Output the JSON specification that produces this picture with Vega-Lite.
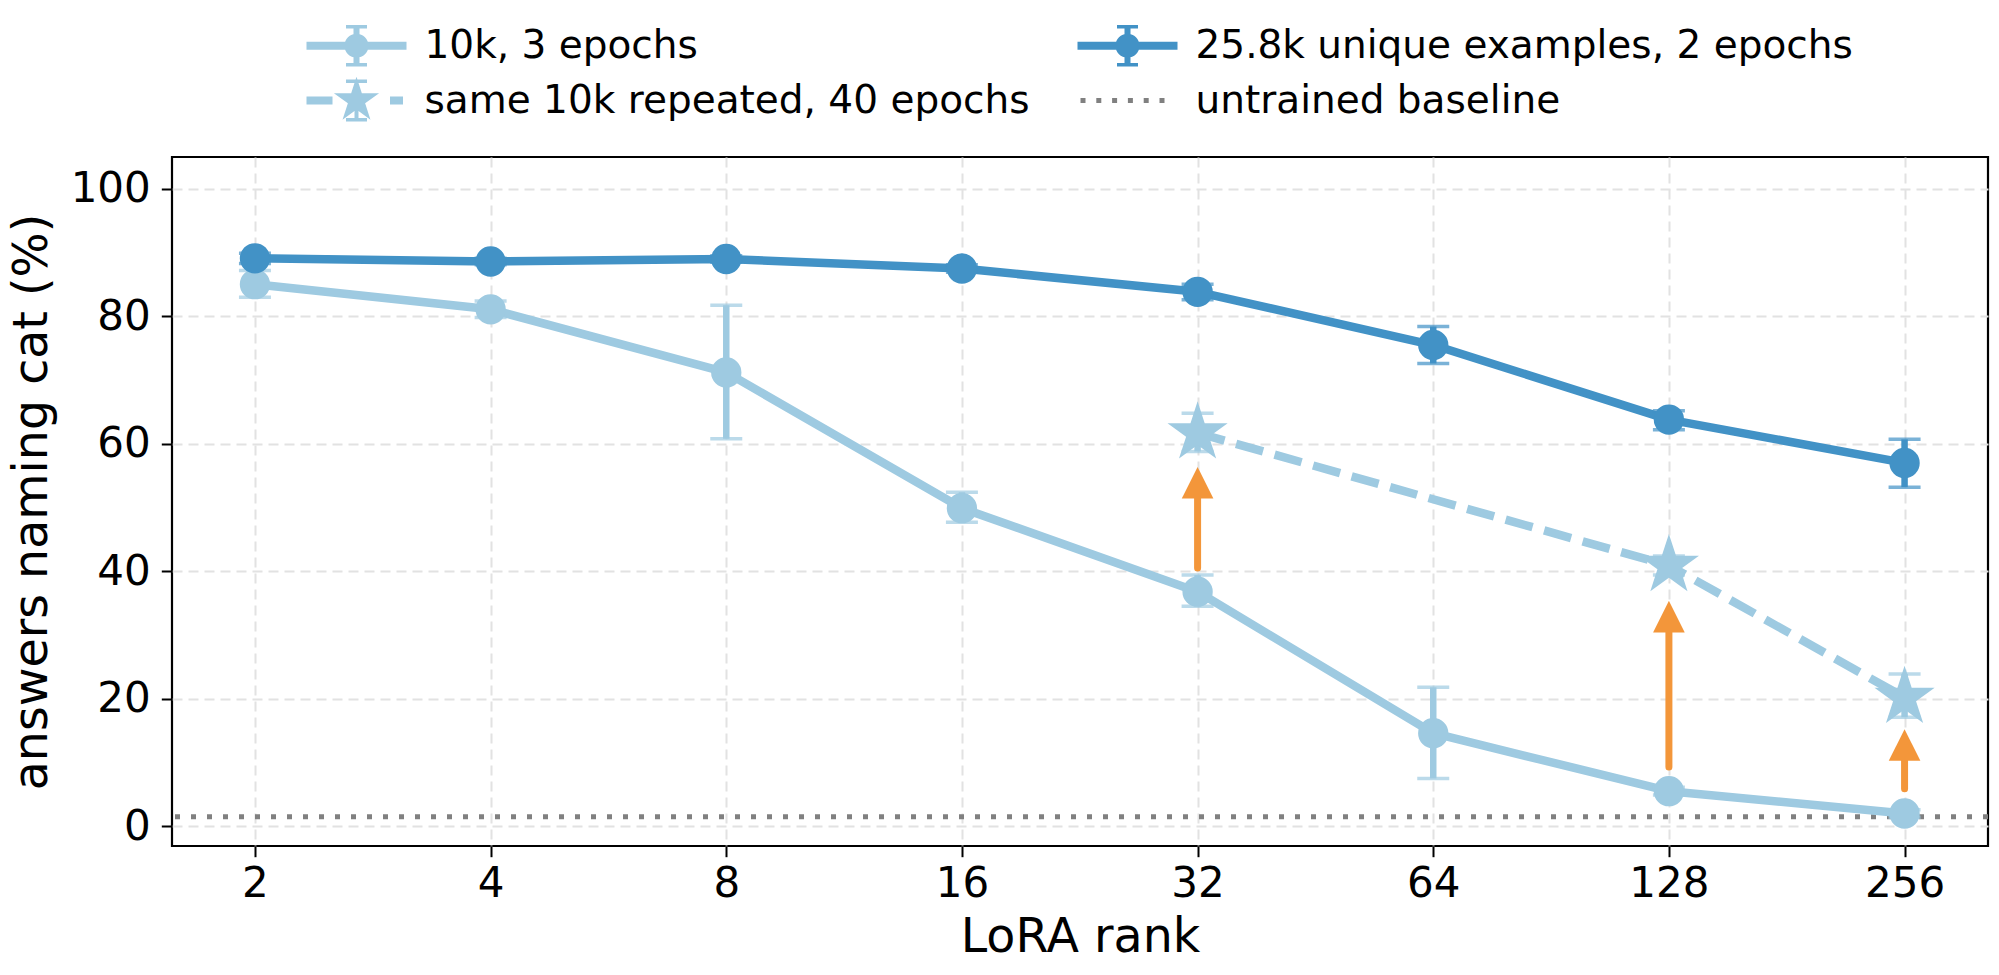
{
  "$schema": "https://vega.github.io/schema/vega-lite/v6.json",
  "autosize": {"type": "none"},
  "padding": {"left": 172, "top": 157, "right": 11, "bottom": 129},
  "width": 1816,
  "height": 689,
  "config": {
    "font": "DejaVu Sans",
    "view": {"stroke": "black", "strokeWidth": 2.2},
    "axis": {
      "domain": false,
      "grid": true,
      "gridColor": "#e2e2e2",
      "gridDash": [10, 6],
      "gridWidth": 2,
      "tickColor": "black",
      "tickSize": 10.7,
      "tickWidth": 2,
      "labelFont": "DejaVu Sans",
      "labelFontSize": 42,
      "labelColor": "black",
      "titleFont": "DejaVu Sans",
      "titleFontSize": 47.5,
      "titleFontWeight": "normal",
      "titleColor": "black"
    }
  },
  "datasets": {
    "pts": [
      {"series": "10k, 3 epochs", "rank": 2, "value": 85.05, "lo": 83.0, "hi": 87.2},
      {"series": "10k, 3 epochs", "rank": 4, "value": 81.1, "lo": 79.8, "hi": 82.4},
      {"series": "10k, 3 epochs", "rank": 8, "value": 71.2, "lo": 60.8, "hi": 81.75},
      {"series": "10k, 3 epochs", "rank": 16, "value": 49.9, "lo": 47.7, "hi": 52.4},
      {"series": "10k, 3 epochs", "rank": 32, "value": 36.8, "lo": 34.5, "hi": 39.4},
      {"series": "10k, 3 epochs", "rank": 64, "value": 14.6, "lo": 7.5, "hi": 21.8},
      {"series": "10k, 3 epochs", "rank": 128, "value": 5.5, "lo": 4.9, "hi": 6.1},
      {"series": "10k, 3 epochs", "rank": 256, "value": 2.0, "lo": 1.4, "hi": 2.6},
      {"series": "25.8k unique examples, 2 epochs", "rank": 2, "value": 89.1, "lo": 88.3, "hi": 89.9},
      {"series": "25.8k unique examples, 2 epochs", "rank": 4, "value": 88.6, "lo": 88.1, "hi": 89.1},
      {"series": "25.8k unique examples, 2 epochs", "rank": 8, "value": 89.0, "lo": 88.5, "hi": 89.5},
      {"series": "25.8k unique examples, 2 epochs", "rank": 16, "value": 87.5, "lo": 86.9, "hi": 88.1},
      {"series": "25.8k unique examples, 2 epochs", "rank": 32, "value": 83.85, "lo": 82.6, "hi": 85.05},
      {"series": "25.8k unique examples, 2 epochs", "rank": 64, "value": 75.5, "lo": 72.6, "hi": 78.4},
      {"series": "25.8k unique examples, 2 epochs", "rank": 128, "value": 63.8, "lo": 62.2, "hi": 65.2},
      {"series": "25.8k unique examples, 2 epochs", "rank": 256, "value": 57.0, "lo": 53.2, "hi": 60.7},
      {"series": "same 10k repeated, 40 epochs", "rank": 32, "value": 61.7, "lo": 58.8, "hi": 64.8},
      {"series": "same 10k repeated, 40 epochs", "rank": 128, "value": 40.9, "lo": 39.4, "hi": 42.4},
      {"series": "same 10k repeated, 40 epochs", "rank": 256, "value": 20.2, "lo": 17.1, "hi": 23.9}
    ],
    "arrows": [
      {"rank": 32, "start": 40.5, "tip": 56.4},
      {"rank": 128, "start": 9.3, "tip": 35.4},
      {"rank": 256, "start": 5.9, "tip": 15.25}
    ],
    "legendrows": [
      {"series": "10k, 3 epochs"},
      {"series": "same 10k repeated, 40 epochs"},
      {"series": "25.8k unique examples, 2 epochs"},
      {"series": "untrained baseline"}
    ],
    "baseline": [{"base": 1.5}]
  },
  "layer": [
    {
      "data": {"name": "baseline"},
      "mark": {"type": "rule", "color": "#808080", "strokeWidth": 5, "strokeDash": [5, 11]},
      "encoding": {
        "y": {"field": "base", "type": "quantitative", "scale": {"domain": [-3.1, 105], "nice": false, "zero": false},
          "axis": {"values": [0, 20, 40, 60, 80, 100], "title": "answers naming cat (%)", "labelPadding": 11, "titlePadding": 14}}
      }
    },
    {
      "data": {"name": "pts"},
      "transform": [{"filter": "datum.series !== 'same 10k repeated, 40 epochs'"}],
      "mark": {"type": "line", "strokeWidth": 8.5, "strokeJoin": "round"},
      "encoding": {
        "x": {"field": "rank", "type": "quantitative",
          "scale": {"type": "log", "base": 2, "domain": [1.567, 327.2], "nice": false},
          "axis": {"values": [2, 4, 8, 16, 32, 64, 128, 256], "format": "d", "title": "LoRA rank", "labelPadding": 7, "titlePadding": 9}},
        "y": {"field": "value", "type": "quantitative", "scale": {"domain": [-3.1, 105], "nice": false, "zero": false},
          "axis": {"values": [0, 20, 40, 60, 80, 100], "title": "answers naming cat (%)", "labelPadding": 11, "titlePadding": 14}},
        "detail": {"field": "series", "type": "nominal"},
        "color": {"condition": {"test": "datum.series === '25.8k unique examples, 2 epochs'", "value": "#4292c6"}, "value": "#9ecae1"}
      }
    },
    {
      "data": {"name": "pts"},
      "transform": [{"filter": "datum.series === 'same 10k repeated, 40 epochs'"}],
      "mark": {"type": "line", "strokeWidth": 8.5, "strokeDash": [28, 12], "color": "#9ecae1"},
      "encoding": {
        "x": {"field": "rank", "type": "quantitative",
          "scale": {"type": "log", "base": 2, "domain": [1.567, 327.2], "nice": false},
          "axis": {"values": [2, 4, 8, 16, 32, 64, 128, 256], "format": "d", "title": "LoRA rank", "labelPadding": 7, "titlePadding": 9}},
        "y": {"field": "value", "type": "quantitative", "scale": {"domain": [-3.1, 105], "nice": false, "zero": false},
          "axis": {"values": [0, 20, 40, 60, 80, 100], "title": "answers naming cat (%)", "labelPadding": 11, "titlePadding": 14}}
      }
    },
    {
      "data": {"name": "pts"},
      "mark": {"type": "rule", "strokeWidth": 6.5},
      "encoding": {
        "x": {"field": "rank", "type": "quantitative",
          "scale": {"type": "log", "base": 2, "domain": [1.567, 327.2], "nice": false},
          "axis": {"values": [2, 4, 8, 16, 32, 64, 128, 256], "format": "d", "title": "LoRA rank", "labelPadding": 7, "titlePadding": 9}},
        "y": {"field": "lo", "type": "quantitative", "scale": {"domain": [-3.1, 105], "nice": false, "zero": false},
          "axis": {"values": [0, 20, 40, 60, 80, 100], "title": "answers naming cat (%)", "labelPadding": 11, "titlePadding": 14}},
        "y2": {"field": "hi"},
        "color": {"condition": {"test": "datum.series === '25.8k unique examples, 2 epochs'", "value": "#4292c6"}, "value": "#9ecae1"}
      }
    },
    {
      "data": {"name": "pts"},
      "mark": {"type": "tick", "orient": "horizontal", "size": 32, "thickness": 3.5},
      "encoding": {
        "x": {"field": "rank", "type": "quantitative",
          "scale": {"type": "log", "base": 2, "domain": [1.567, 327.2], "nice": false},
          "axis": {"values": [2, 4, 8, 16, 32, 64, 128, 256], "format": "d", "title": "LoRA rank", "labelPadding": 7, "titlePadding": 9}},
        "y": {"field": "lo", "type": "quantitative", "scale": {"domain": [-3.1, 105], "nice": false, "zero": false},
          "axis": {"values": [0, 20, 40, 60, 80, 100], "title": "answers naming cat (%)", "labelPadding": 11, "titlePadding": 14}},
        "color": {"condition": {"test": "datum.series === '25.8k unique examples, 2 epochs'", "value": "#4292c6"}, "value": "#9ecae1"}
      }
    },
    {
      "data": {"name": "pts"},
      "mark": {"type": "tick", "orient": "horizontal", "size": 32, "thickness": 3.5},
      "encoding": {
        "x": {"field": "rank", "type": "quantitative",
          "scale": {"type": "log", "base": 2, "domain": [1.567, 327.2], "nice": false},
          "axis": {"values": [2, 4, 8, 16, 32, 64, 128, 256], "format": "d", "title": "LoRA rank", "labelPadding": 7, "titlePadding": 9}},
        "y": {"field": "hi", "type": "quantitative", "scale": {"domain": [-3.1, 105], "nice": false, "zero": false},
          "axis": {"values": [0, 20, 40, 60, 80, 100], "title": "answers naming cat (%)", "labelPadding": 11, "titlePadding": 14}},
        "color": {"condition": {"test": "datum.series === '25.8k unique examples, 2 epochs'", "value": "#4292c6"}, "value": "#9ecae1"}
      }
    },
    {
      "data": {"name": "pts"},
      "mark": {"type": "point", "filled": true, "opacity": 1, "strokeWidth": 0},
      "encoding": {
        "x": {"field": "rank", "type": "quantitative",
          "scale": {"type": "log", "base": 2, "domain": [1.567, 327.2], "nice": false},
          "axis": {"values": [2, 4, 8, 16, 32, 64, 128, 256], "format": "d", "title": "LoRA rank", "labelPadding": 7, "titlePadding": 9}},
        "y": {"field": "value", "type": "quantitative", "scale": {"domain": [-3.1, 105], "nice": false, "zero": false},
          "axis": {"values": [0, 20, 40, 60, 80, 100], "title": "answers naming cat (%)", "labelPadding": 11, "titlePadding": 14}},
        "color": {"condition": {"test": "datum.series === '25.8k unique examples, 2 epochs'", "value": "#4292c6"}, "value": "#9ecae1"},
        "shape": {"condition": {"test": "datum.series === 'same 10k repeated, 40 epochs'", "value": "M0,-1L0.2245,-0.309L0.9511,-0.309L0.3633,0.118L0.5878,0.809L0,0.382L-0.5878,0.809L-0.3633,0.118L-0.9511,-0.309L-0.2245,-0.309Z"}, "value": "circle"},
        "size": {"condition": {"test": "datum.series === 'same 10k repeated, 40 epochs'", "value": 4000}, "value": 920}
      }
    },
    {
      "data": {"name": "arrows"},
      "mark": {"type": "rule", "color": "#f3963a", "strokeWidth": 7, "strokeCap": "round", "y2Offset": 14},
      "encoding": {
        "x": {"field": "rank", "type": "quantitative",
          "scale": {"type": "log", "base": 2, "domain": [1.567, 327.2], "nice": false},
          "axis": {"values": [2, 4, 8, 16, 32, 64, 128, 256], "format": "d", "title": "LoRA rank", "labelPadding": 7, "titlePadding": 9}},
        "y": {"field": "start", "type": "quantitative", "scale": {"domain": [-3.1, 105], "nice": false, "zero": false},
          "axis": {"values": [0, 20, 40, 60, 80, 100], "title": "answers naming cat (%)", "labelPadding": 11, "titlePadding": 14}},
        "y2": {"field": "tip"}
      }
    },
    {
      "data": {"name": "arrows"},
      "mark": {"type": "point", "shape": "M0,-1L1,1L-1,1Z", "size": 1000, "filled": true, "opacity": 1, "color": "#f3963a", "strokeWidth": 0, "yOffset": 16},
      "encoding": {
        "x": {"field": "rank", "type": "quantitative",
          "scale": {"type": "log", "base": 2, "domain": [1.567, 327.2], "nice": false},
          "axis": {"values": [2, 4, 8, 16, 32, 64, 128, 256], "format": "d", "title": "LoRA rank", "labelPadding": 7, "titlePadding": 9}},
        "y": {"field": "tip", "type": "quantitative", "scale": {"domain": [-3.1, 105], "nice": false, "zero": false},
          "axis": {"values": [0, 20, 40, 60, 80, 100], "title": "answers naming cat (%)", "labelPadding": 11, "titlePadding": 14}}
      }
    },
    {
      "data": {"name": "legendrows"},
      "mark": {"type": "point", "filled": true, "opacity": 0},
      "encoding": {
        "color": {"field": "series", "type": "nominal",
          "scale": {"domain": ["10k, 3 epochs", "same 10k repeated, 40 epochs", "25.8k unique examples, 2 epochs", "untrained baseline"],
            "range": ["#9ecae1", "#9ecae1", "#4292c6", "#808080"]},
          "legend": {
            "title": null, "orient": "none", "legendX": 134, "legendY": -136.5,
            "columns": 2, "columnPadding": 47, "rowPadding": 9, "padding": 0,
            "symbolSize": 2500, "symbolOffset": 25.5, "labelOffset": 43,
            "symbolStrokeWidth": 0, "symbolOpacity": 1,
            "labelFont": "DejaVu Sans", "labelFontSize": 39, "labelColor": "black", "labelLimit": 2000
          }},
        "shape": {"field": "series", "type": "nominal",
          "scale": {"domain": ["10k, 3 epochs", "same 10k repeated, 40 epochs", "25.8k unique examples, 2 epochs", "untrained baseline"],
            "range": [
              "M-2,-0.16H2V0.16H-2Z M-0.48,0A0.48,0.48,0,1,1,0.48,0A0.48,0.48,0,1,1,-0.48,0Z M-0.12,-0.76H0.12V0.76H-0.12Z M-0.42,-0.83H0.42V-0.69H-0.42Z M-0.42,0.69H0.42V0.83H-0.42Z",
              "M-2,-0.16H-0.96V0.16H-2Z M1.34,-0.16H1.86V0.16H1.34Z M0,-0.95L0.2133,-0.2936L0.9035,-0.2936L0.3451,0.1121L0.5584,0.7686L0,0.3629L-0.5584,0.7686L-0.3451,0.1121L-0.9035,-0.2936L-0.2133,-0.2936Z M-0.08,-0.77H0.08V0.77H-0.08Z M-0.42,-0.84H0.42V-0.7H-0.42Z M-0.42,0.7H0.42V0.84H-0.42Z",
              "M-2,-0.16H2V0.16H-2Z M-0.48,0A0.48,0.48,0,1,1,0.48,0A0.48,0.48,0,1,1,-0.48,0Z M-0.12,-0.76H0.12V0.76H-0.12Z M-0.42,-0.83H0.42V-0.69H-0.42Z M-0.42,0.69H0.42V0.83H-0.42Z",
              "M-1.88,-0.1H-1.68V0.1H-1.88Z M-1.248,-0.1H-1.048V0.1H-1.248Z M-0.616,-0.1H-0.416V0.1H-0.616Z M0.016,-0.1H0.216V0.1H0.016Z M0.648,-0.1H0.848V0.1H0.648Z M1.28,-0.1H1.48V0.1H1.28Z"
            ]},
          "legend": {
            "title": null, "orient": "none", "legendX": 134, "legendY": -136.5,
            "columns": 2, "columnPadding": 47, "rowPadding": 9, "padding": 0,
            "symbolSize": 2500, "symbolOffset": 25.5, "labelOffset": 43,
            "symbolStrokeWidth": 0, "symbolOpacity": 1,
            "labelFont": "DejaVu Sans", "labelFontSize": 39, "labelColor": "black", "labelLimit": 2000
          }}
      }
    }
  ]
}
